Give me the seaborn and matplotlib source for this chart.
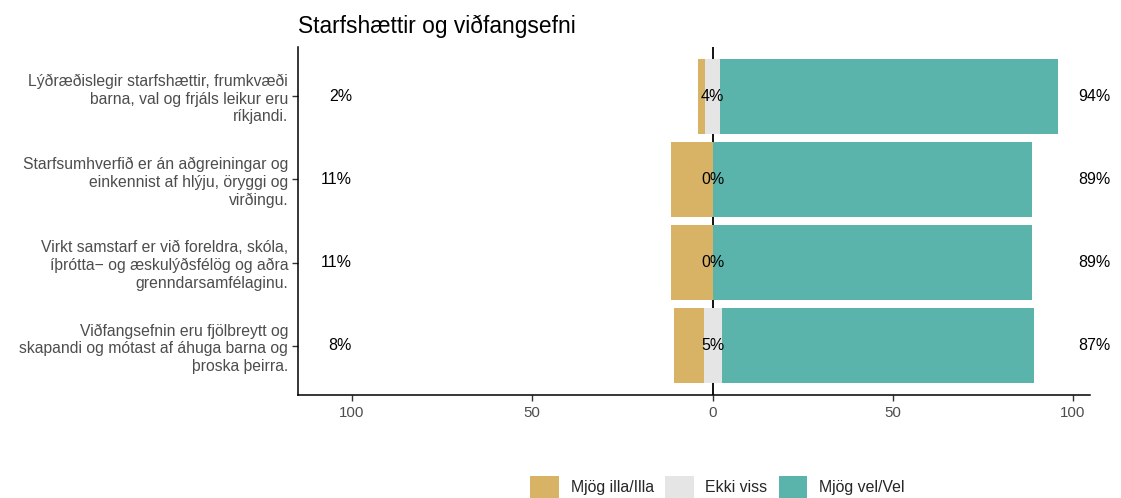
import numpy as np
import pandas as pd
import matplotlib
matplotlib.use("Agg")
import matplotlib.pyplot as plt
import seaborn as sns
from matplotlib.patches import Patch

items = [
    "Lýðræðislegir starfshættir, frumkvæði\nbarna, val og frjáls leikur eru\nríkjandi.",
    "Starfsumhverfið er án aðgreiningar og\neinkennist af hlýju, öryggi og\nvirðingu.",
    "Virkt samstarf er við foreldra, skóla,\níþrótta\u2212 og æskulýðsfélög og aðra\ngrenndarsamfélaginu.",
    "Viðfangsefnin eru fjölbreytt og\nskapandi og mótast af áhuga barna og\nþroska þeirra.",
]
illa = [2.2, 11.4, 11.4, 8.2]
ekki_viss = [3.9, 0.0, 0.0, 5.0]
vel = [93.9, 88.6, 88.6, 86.8]
levels = ["Mjög illa/Illa", "Ekki viss", "Mjög vel/Vel"]
colors = ["#D8B365", "#E5E5E5", "#5AB4AC"]
title = "Starfshættir og viðfangsefni"

sns.set_style("white")
plt.rcParams["font.family"] = ["Liberation Sans", "DejaVu Sans"]

df = pd.DataFrame({"item": items, "illa": illa, "neu": ekki_viss, "vel": vel})
df["right_end"] = df["vel"] + df["neu"] / 2
df["neu_right"] = df["neu"] / 2
df["left_end"] = -(df["illa"] + df["neu"] / 2)
df["neu_left"] = -df["neu"] / 2

fig = plt.figure(figsize=(11.21, 4.98), dpi=100)
ax = fig.add_axes([0.2658, 0.2068, 0.7065, 0.6988])

ax.axvline(0, color="black", lw=1.3, zorder=0)

# layered bars from zero outwards
for col, c in [("right_end", colors[2]), ("neu_right", colors[1]),
               ("left_end", colors[0]), ("neu_left", colors[1])]:
    sns.barplot(data=df, x=col, y="item", orient="h", color=c, saturation=1,
                width=0.9, errorbar=None, linewidth=0, ax=ax, zorder=2)

for i in range(len(items)):
    ax.text(-100, i, f"{illa[i]:.0f}%", ha="right", va="center", fontsize=11.5, color="black")
    ax.text(0, i, f"{ekki_viss[i]:.0f}%", ha="center", va="center", fontsize=11.5, color="black", zorder=5)
    ax.text(101.5, i, f"{vel[i]:.0f}%", ha="left", va="center", fontsize=11.5, color="black", clip_on=False)

ax.set_xlim(-115, 104.7)
ax.set_ylim(3.59, -0.59)
ax.set_xticks([-100, -50, 0, 50, 100])
ax.set_xticklabels(["100", "50", "0", "50", "100"])
ax.set_xlabel("")
ax.set_ylabel("")
ax.tick_params(axis="both", which="both", length=4, width=1, color="#333333",
               labelcolor="#4D4D4D", left=True, bottom=True)
ax.tick_params(axis="x", labelsize=10.8, pad=4)
ax.tick_params(axis="y", labelsize=11.3, pad=3)
for lab in ax.get_yticklabels():
    lab.set_linespacing(1.22)
sns.despine(ax=ax)
for s in ["left", "bottom"]:
    ax.spines[s].set_color("black")
    ax.spines[s].set_linewidth(1.1)

fig.text(0.2658, 0.948, title, fontsize=16.4, ha="left", va="center", color="black")

handles = [Patch(facecolor=c, edgecolor="none", label=l) for c, l in zip(colors, levels)]
fig.legend(handles=handles, loc="center", bbox_to_anchor=(0.64, 0.022), ncol=3,
           frameon=False, fontsize=11.4, handlelength=1.8, handleheight=1.8,
           handletextpad=0.75, columnspacing=0.7)

fig.savefig("out.png", dpi=100)
